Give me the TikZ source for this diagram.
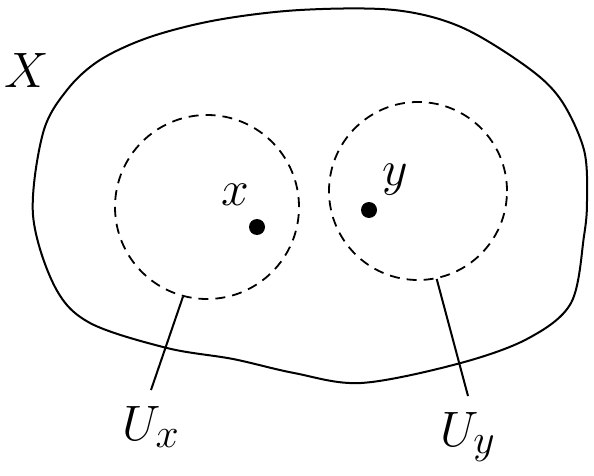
\documentclass[tikz,border=0pt]{standalone}
\usetikzlibrary{positioning}
\begin{document}
\begin{tikzpicture}[
  x=0.5pt, y=-0.5pt,
  big/.style  = {font=\fontsize{29}{35}\selectfont},
  nbhd/.style = {draw, circle, inner sep=0pt, line width=0.9pt,
                 dash pattern=on 5pt off 3.5pt},
  dot/.style  = {circle, fill, inner sep=0pt, minimum size=8pt},
  lbl/.style  = {big, inner sep=8pt, outer sep=0pt, anchor=north},
  edge/.style = {line width=1pt},
]
  \useasboundingbox (0,0) rectangle (594,476);

  \draw[edge] plot[smooth cycle, tension=0.55] coordinates {
    (33,215) (43,133) (67,90) (100,60) (150,37) (217,20) (300,10)
    (394,10) (461,27) (527,67) (561,100) (584,150) (587,200) (584,236)
    (571,303) (527,339) (457,364) (361,383) (294,373) (233,359)
    (167,348) (90,323) (55,287)};
  \node[big, anchor=base] (X) at (27,88) {$X$};

  \node[nbhd, minimum size=92pt] (Ux) at (207,207) {};
  \node[nbhd, minimum size=89pt] (Uy) at (418,191) {};

  \node[dot] (px) at (257,227) {};
  \node[dot] (py) at (369,210) {};
  \node[big, anchor=base] (xl) at (235,205) {$x$};
  \node[big, anchor=base] (yl) at (395,185) {$y$};

  \node[lbl] (Uxl) at (151,390) {$U_x$};
  \node[lbl] (Uyl) at (468,396) {$U_y$};

  \draw[edge] (Ux.-105.6) -- (Uxl.north);
  \draw[edge] (Uy.-78.3)  -- (Uyl.north);
\end{tikzpicture}
\end{document}
